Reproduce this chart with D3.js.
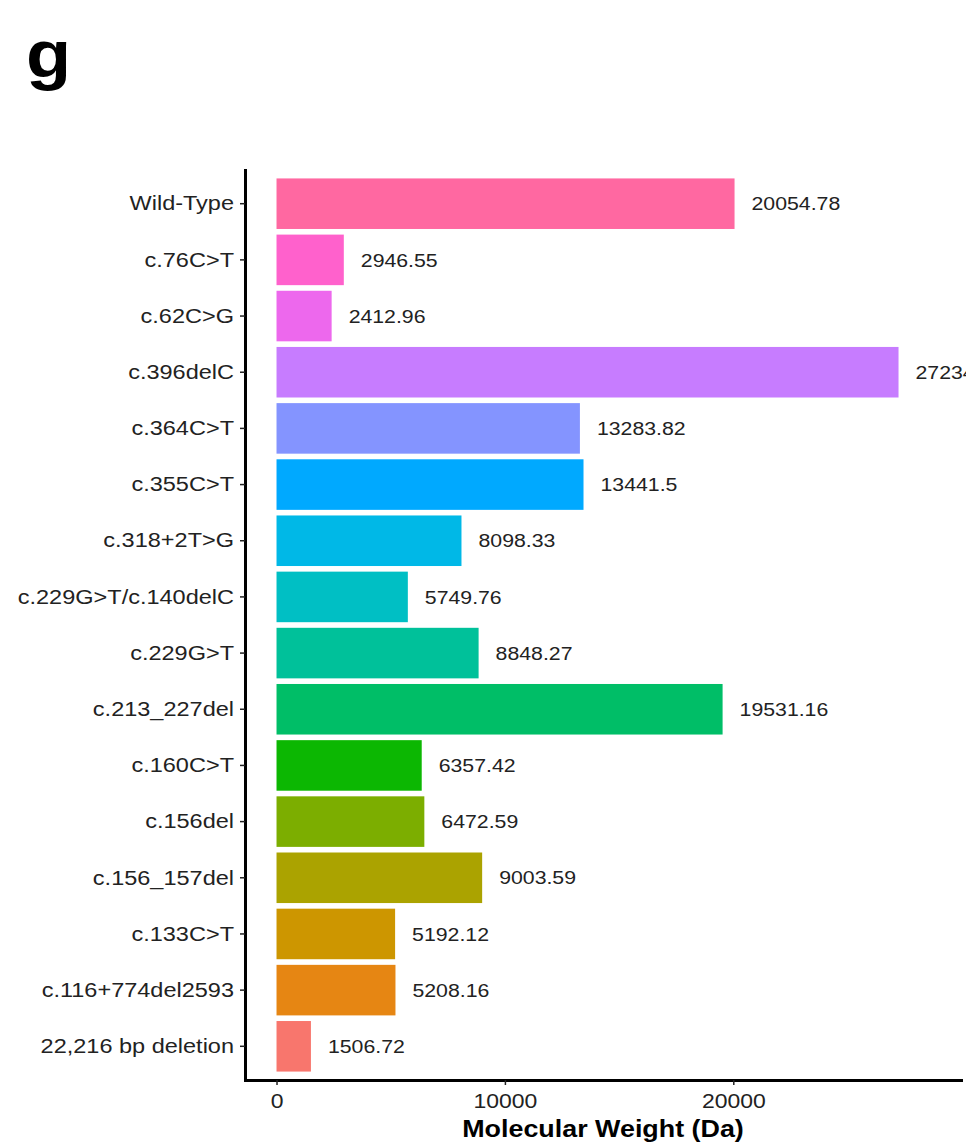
<!DOCTYPE html>
<html>
<head>
<meta charset="utf-8">
<script src="https://cdn.jsdelivr.net/npm/d3@7"></script>
<style>
  html, body { margin: 0; padding: 0; background: #ffffff; }
  svg { display: block; }
  text { font-family: "Liberation Sans", Arial, Helvetica, sans-serif; }
</style>
</head>
<body>
<div id="chart"></div>
<script>
// Variants, listed top to bottom
const categories = [
  "Wild-Type", "c.76C>T", "c.62C>G", "c.396delC", "c.364C>T", "c.355C>T",
  "c.318+2T>G", "c.229G>T/c.140delC", "c.229G>T", "c.213_227del", "c.160C>T",
  "c.156del", "c.156_157del", "c.133C>T", "c.116+774del2593", "22,216 bp deletion"
];

// Molecular weight (Da) per variant
const weights = [
  20054.78, 2946.55, 2412.96, 27234.41, 13283.82, 13441.5,
  8098.33, 5749.76, 8848.27, 19531.16, 6357.42,
  6472.59, 9003.59, 5192.12, 5208.16, 1506.72
];

// Hue palette, one colour per variant (same order as categories)
const barColors = [
  "#FF68A1", "#FF61CC", "#ED68ED", "#C77CFF", "#8494FF", "#00A9FF",
  "#00B8E7", "#00BFC4", "#00C19A", "#00BE67", "#0CB702",
  "#7CAE00", "#ABA300", "#CD9600", "#E68613", "#F8766D"
];

const xTicks = [0, 10000, 20000];
const xLimits = [-1380, 29970];
const xTitle = "Molecular Weight (Da)";
const panelTag = "g";

const W = 966, H = 1148;
const plotLeft = 245, plotRight = 961, plotTop = 170, plotBottom = 1080;
const SX = 1.12; // horizontal text stretch

const svg = d3.select("#chart").append("svg")
  .attr("width", W).attr("height", H)
  .attr("viewBox", `0 0 ${W} ${H}`);

svg.append("rect").attr("width", W).attr("height", H).attr("fill", "#fff");

const x = d3.scaleLinear().domain(xLimits).range([plotLeft, plotRight]);
const y = d3.scaleBand().domain(categories).range([plotTop, plotBottom])
  .paddingInner(0.1).paddingOuter(0.15);

const data = categories.map((c, i) => ({ cat: c, value: weights[i], color: barColors[i] }));

// Bars
svg.append("g").selectAll("rect").data(data).join("rect")
  .attr("x", x(0))
  .attr("y", d => y(d.cat))
  .attr("width", d => x(d.value) - x(0))
  .attr("height", y.bandwidth())
  .attr("fill", d => d.color);

// Value labels
svg.append("g").selectAll("text").data(data).join("text")
  .attr("transform", d => `translate(${x(d.value) + 17},${y(d.cat) + y.bandwidth() / 2}) scale(${SX},1)`)
  .attr("dy", "0.35em")
  .attr("font-size", 19)
  .attr("fill", "#222")
  .text(d => d.value);

// Y axis
const yAxis = svg.append("g")
  .attr("transform", `translate(${plotLeft},0)`)
  .call(d3.axisLeft(y).tickSize(5).tickSizeOuter(0).tickPadding(6));
yAxis.select(".domain").attr("stroke", "#000").attr("stroke-width", 3).attr("stroke-linecap", "square");
yAxis.selectAll(".tick line").attr("stroke", "#222").attr("stroke-width", 1.5);
yAxis.selectAll(".tick text")
  .attr("font-size", 21)
  .attr("fill", "#222")
  .attr("x", -11 / SX)
  .attr("transform", `scale(${SX},1)`);

// X axis
const xAxis = svg.append("g")
  .attr("transform", `translate(0,${plotBottom})`)
  .call(d3.axisBottom(x).tickValues(xTicks).tickFormat(d3.format("d")).tickSize(5).tickSizeOuter(0).tickPadding(8));
xAxis.select(".domain").attr("stroke", "#000").attr("stroke-width", 3).attr("stroke-linecap", "square");
xAxis.selectAll(".tick line").attr("stroke", "#222").attr("stroke-width", 1.5);
xAxis.selectAll(".tick text")
  .attr("font-size", 20.5)
  .attr("fill", "#222")
  .attr("x", 0)
  .attr("transform", `scale(${SX},1)`);

// Axis title
svg.append("text")
  .attr("transform", `translate(${(plotLeft + plotRight) / 2},1137) scale(${SX},1)`)
  .attr("text-anchor", "middle")
  .attr("font-size", 24)
  .attr("font-weight", "bold")
  .attr("fill", "#000")
  .text(xTitle);

// Panel tag
svg.append("text")
  .attr("transform", `translate(26,77) scale(${SX},1)`)
  .attr("font-size", 66)
  .attr("font-weight", "bold")
  .attr("fill", "#000")
  .text(panelTag);
</script>
</body>
</html>
